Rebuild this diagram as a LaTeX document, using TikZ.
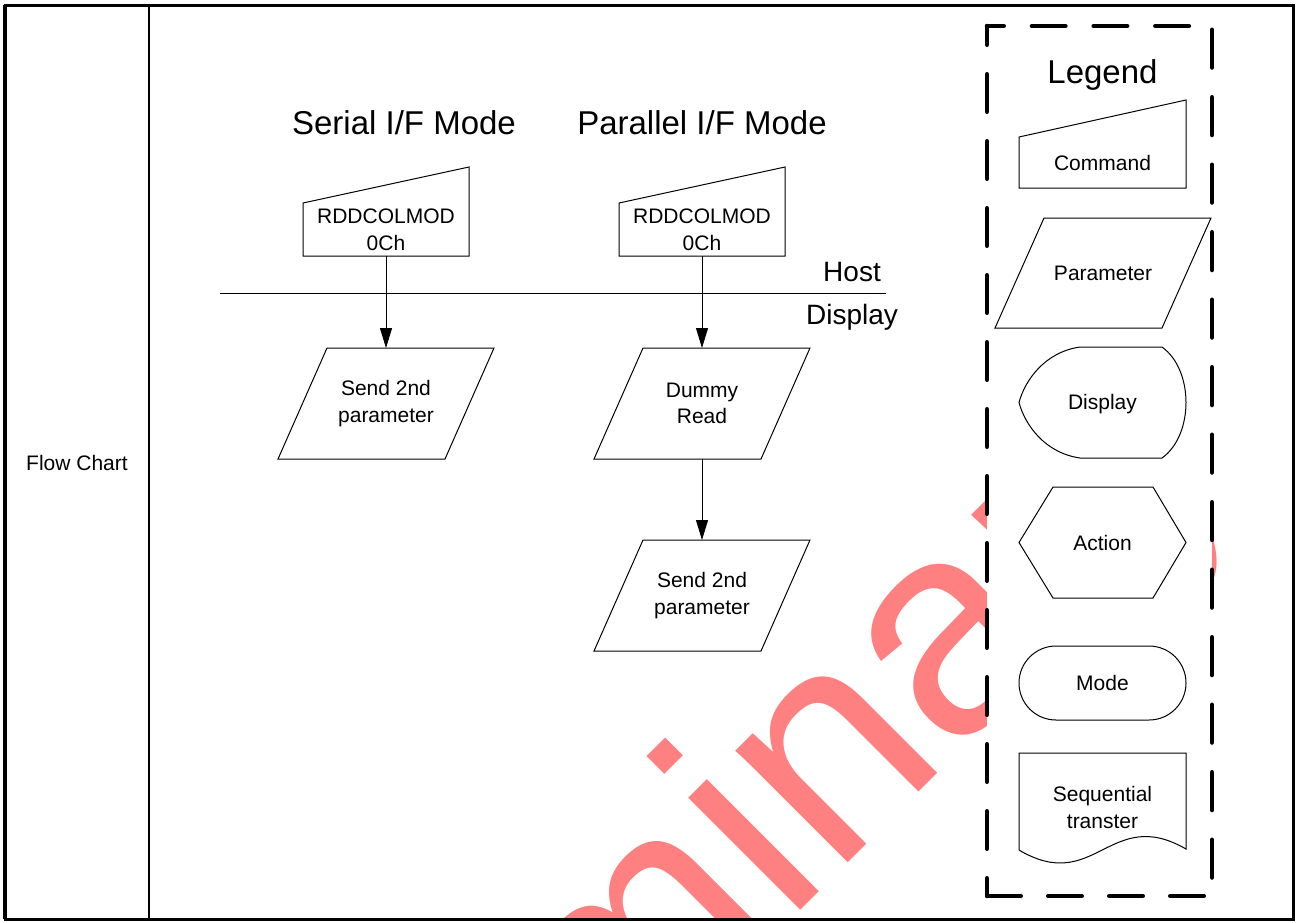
\documentclass[tikz,border=0pt]{standalone}
\usepackage{fontspec}
\setmainfont{Liberation Sans}
\usetikzlibrary{arrows.meta}
\newcommand{\drawCmd}[2]{\draw[shp] (#1.south west) -- (#1.north west) -- ([yshift=#2]#1.north east) -- (#1.south east) -- cycle;}
\newcommand{\drawPar}[1]{\draw[shp] ([xshift=49pt]#1.north west) -- (#1.north east) -- ([xshift=-49pt]#1.south east) -- (#1.south west) -- cycle;}
\begin{document}
\begin{tikzpicture}[x=1pt,y=-1pt,
  shp/.style={draw=black, line width=1pt, line join=miter},
  box/.style={inner sep=0pt, outer sep=0pt, align=center, font=\fontsize{21}{27}\selectfont},
  bigtxt/.style={inner sep=0pt, anchor=base, font=\fontsize{33}{40}\selectfont},
  midtxt/.style={inner sep=0pt, anchor=base, font=\fontsize{28}{34}\selectfont},
  conn/.style={line width=1pt, -{Triangle[length=20pt,width=12pt]}},
  legdash/.style={line width=4.5pt, line cap=round}]

\useasboundingbox (0,0) rectangle (1296,922);
\fill[white] (0,0) rectangle (1296,922);

% watermark
\begin{scope}
  \clip (5,5) rectangle (1293,919);
  \node[text=red!50, font=\fontsize{300}{300}\selectfont, rotate=45, anchor=base west, inner sep=0pt] (wm) at (185,1526) {Preliminary};
\end{scope}

% legend box
\fill[white] (987,26) rectangle (1212,896);
\draw[legdash, dash pattern=on 33.5pt off 28.2pt, dash phase=16.75pt] (987,26) -- (1212,26);
\draw[legdash, dash pattern=on 37.5pt off 29.5pt, dash phase=18.75pt] (987,26) -- (987,896);
\draw[legdash, dash pattern=on 37.75pt off 29.75pt, dash phase=63.75pt] (1212,26) -- (1212,896);
\draw[legdash, dash pattern=on 33.5pt off 27.5pt, dash phase=60.75pt] (987,896) -- (1212,896);

% frame
\draw[line width=3pt] (5,5) rectangle (1293,919);
\draw[line width=4.5pt] (5,5) -- (5,919);
\draw[line width=2.5pt] (149,5) -- (149,919);

\node[box] (fc) at (77,463) {Flow Chart};

% titles
\node[bigtxt] (tS) at (404,134) {Serial I/F Mode};
\node[bigtxt] (tP) at (702,134) {Parallel I/F Mode};
\node[bigtxt] (tL) at (1102.5,83) {Legend};
\node[midtxt] (host) at (852,281) {Host};
\node[midtxt] (disp) at (852,324) {Display};

% host / display separator
\coordinate (hdL) at (220,293);
\coordinate (hdR) at (886,293);
\draw[line width=1pt] (hdL) -- (hdR);

% serial column
\node[box, minimum width=166pt, minimum height=53pt] (cmdS) at (386,229.5) {RDDCOLMOD\\0Ch};
\drawCmd{cmdS}{36pt}
\node[box, minimum width=216pt, minimum height=111pt] (parS) at (386,403.5) {Send 2nd\\parameter};
\drawPar{parS}
\draw[conn] (cmdS.south) -- (parS.north);

% parallel column
\node[box, minimum width=166pt, minimum height=53pt] (cmdP) at (702,229.5) {RDDCOLMOD\\0Ch};
\drawCmd{cmdP}{36pt}
\node[box, minimum width=216pt, minimum height=111pt] (dummy) at (702,403.5) {Dummy\\[-1pt]Read};
\drawPar{dummy}
\node[box, minimum width=216pt, minimum height=111pt] (parP) at (702,595.5) {Send 2nd\\parameter};
\drawPar{parP}
\draw[conn] (cmdP.south) -- (dummy.north);
\draw[conn] (dummy.south) -- (parP.north);

% legend entries
\node[box, minimum width=167pt, minimum height=51pt] (lgCmd) at (1102.5,162.5) {Command};
\drawCmd{lgCmd}{37pt}
\node[box, minimum width=216pt, minimum height=110pt] (lgPar) at (1103,273) {Parameter};
\drawPar{lgPar}
\node[box, minimum width=167pt, minimum height=111pt] (lgDisp) at (1102.5,404) {Display};
\draw[shp] (1080,347) -- (1162,347) .. controls (1194,370) and (1194,435) .. (1162,458) -- (1080,458) .. controls (1045,453) and (1025,425) .. (1019,402.5) .. controls (1025,380) and (1045,352) .. (1080,347) -- cycle;
\node[box, minimum width=167pt, minimum height=111pt] (lgAct) at (1102.5,542.5) {Action};
\draw[shp] (1053,487) -- (1153,487) -- (1186,542.5) -- (1153,598) -- (1053,598) -- (1019,542.5) -- cycle;
\node[box, draw, line width=1pt, rounded corners=37pt, minimum width=167pt, minimum height=74pt] (lgMode) at (1102.5,683) {Mode};
\node[box] (lgSeq) at (1102.5,807) {Sequential\\transter};
\draw[shp] (1019,850) -- (1019,753) -- (1186,753) -- (1186,849) .. controls (1110,805) and (1095,895) .. (1019,850) -- cycle;

\end{tikzpicture}
\end{document}
